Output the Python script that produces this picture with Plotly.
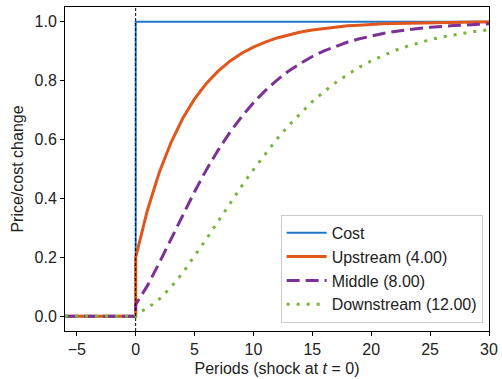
import plotly.graph_objects as go

periods = [-6, 0] + list(range(0, 31))
pre = [0.0, 0.0]

cost_x = [-6, 0, 0, 30]
cost_y = [0.0, 0.0, 1.0, 1.0]

upstream = pre + [0.200, 0.360, 0.488, 0.590, 0.672, 0.738, 0.790, 0.832, 0.866, 0.893,
                  0.914, 0.931, 0.945, 0.956, 0.965, 0.972, 0.977, 0.982, 0.986, 0.988,
                  0.991, 0.993, 0.994, 0.995, 0.996, 0.997, 0.998, 0.998, 0.998, 0.999, 0.999]
middle = pre + [0.040, 0.104, 0.181, 0.263, 0.345, 0.423, 0.497, 0.564, 0.624, 0.678,
                0.725, 0.766, 0.802, 0.833, 0.859, 0.882, 0.901, 0.917, 0.931, 0.942,
                0.952, 0.960, 0.967, 0.973, 0.977, 0.981, 0.985, 0.987, 0.989, 0.991, 0.993]
downstream = pre + [0.008, 0.027, 0.058, 0.099, 0.148, 0.203, 0.262, 0.322, 0.383, 0.442,
                    0.498, 0.552, 0.602, 0.648, 0.690, 0.729, 0.763, 0.794, 0.821, 0.846,
                    0.867, 0.885, 0.902, 0.916, 0.928, 0.939, 0.948, 0.956, 0.962, 0.968, 0.973]

names = ["Cost", "Upstream (4.00)", "Middle (8.00)", "Downstream (12.00)"]
colors = ["#1f77c8", "#e0561c", "#7d3197", "#77b63a"]

fig = go.Figure()
fig.add_trace(go.Scatter(x=cost_x, y=cost_y, mode="lines", name=names[0],
                         line=dict(color=colors[0], width=2)))
fig.add_trace(go.Scatter(x=periods, y=upstream, mode="lines", name=names[1],
                         line=dict(color=colors[1], width=3)))
fig.add_trace(go.Scatter(x=periods, y=middle, mode="lines", name=names[2],
                         line=dict(color=colors[2], width=3, dash="13px,6px")))
fig.add_trace(go.Scatter(x=periods, y=downstream, mode="lines", name=names[3],
                         line=dict(color=colors[3], width=3, dash="3px,7px")))

fig.add_shape(type="line", x0=0, x1=0, y0=0, y1=1, xref="x", yref="paper",
              line=dict(color="black", width=1, dash="3px,2px"), layer="above")

ff = "Liberation Sans, Arial, sans-serif"
fig.update_layout(
    width=502, height=379,
    margin=dict(l=65, r=13, t=7, b=48, autoexpand=False),
    paper_bgcolor="white", plot_bgcolor="white",
    font=dict(family=ff, size=16, color="#222"),
    showlegend=True,
    legend=dict(x=0.985, y=0.025, xanchor="right", yanchor="bottom",
                bgcolor="rgba(255,255,255,0.85)", bordercolor="#cccccc", borderwidth=1,
                font=dict(family=ff, size=16, color="#222"),
                tracegroupgap=0, itemwidth=40),
    xaxis=dict(range=[-6, 30], tickvals=[-5, 0, 5, 10, 15, 20, 25, 30],
               ticktext=["\u22125", "0", "5", "10", "15", "20", "25", "30"],
               showgrid=False, zeroline=False, showline=True, linecolor="black", linewidth=1,
               mirror=True, ticks="outside", ticklen=4, tickcolor="black", automargin=False,
               tickfont=dict(size=16),
               title=dict(text="Periods (shock at <i>t</i> = 0)", standoff=5, font=dict(size=16))),
    yaxis=dict(range=[-0.05, 1.05], tickvals=[0, 0.2, 0.4, 0.6, 0.8, 1.0],
               ticktext=["0.0", "0.2", "0.4", "0.6", "0.8", "1.0"],
               showgrid=False, zeroline=False, showline=True, linecolor="black", linewidth=1,
               mirror=True, ticks="outside", ticklen=4, tickcolor="black", automargin=False,
               tickfont=dict(size=16),
               title=dict(text="Price/cost change", standoff=6, font=dict(size=16))),
)

fig.write_html("out.html", config={"displayModeBar": False},
               post_script="document.body.style.margin='0px';document.body.style.padding='0px';")
